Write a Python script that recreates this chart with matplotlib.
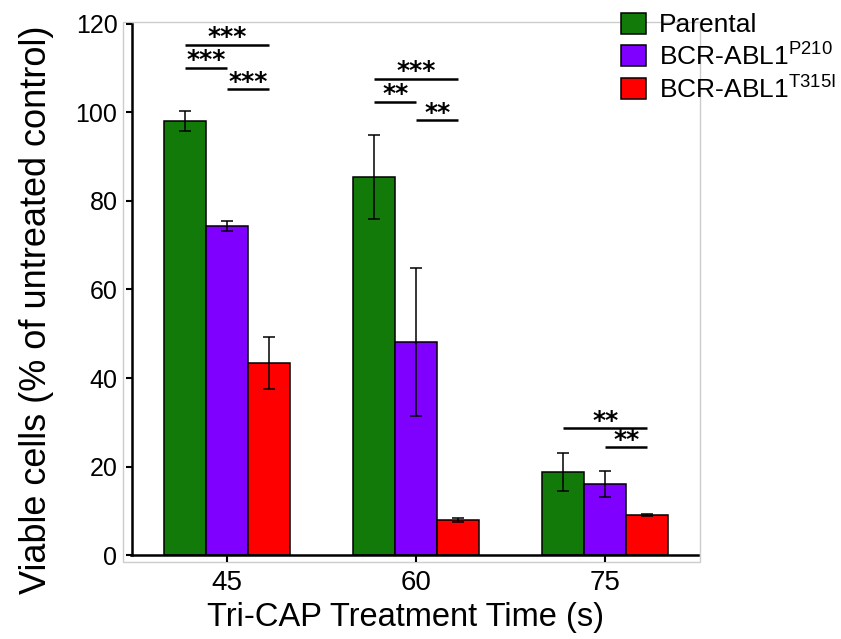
import numpy as np
import matplotlib
matplotlib.use("Agg")
import matplotlib.pyplot as plt

# data
times = ["45", "60", "75"]
lines = ["Parental", "BCR-ABL1$^{\\mathregular{P210}}$", "BCR-ABL1$^{\\mathregular{T315I}}$"]
colors = ["#127a08", "#8000ff", "#ff0000"]

parental = [98.1, 85.4, 18.8]
parental_err = [2.2, 9.5, 4.3]
p210 = [74.4, 48.1, 16.0]
p210_err = [1.1, 16.7, 3.0]
t315i = [43.4, 7.9, 9.0]
t315i_err = [5.9, 0.5, 0.2]

# significance brackets: (group, from bar, to bar, height, label)
sig = [
    (0, 0, 2, 115.3, "***"),
    (0, 0, 1, 110.1, "***"),
    (0, 1, 2, 105.3, "***"),
    (1, 0, 2, 107.6, "***"),
    (1, 0, 1, 102.4, "**"),
    (1, 1, 2, 98.3, "**"),
    (2, 0, 2, 28.7, "**"),
    (2, 1, 2, 24.4, "**"),
]

plt.rcParams["font.family"] = ["Liberation Sans", "DejaVu Sans"]

fig = plt.figure(figsize=(8.41, 6.39), dpi=100)
ax = fig.add_axes([123/841, 1-562/639, 577/841, 540/639])

x = np.arange(len(times))
w = 0.222
vals = [parental, p210, t315i]
errs = [parental_err, p210_err, t315i_err]
for i in range(3):
    ax.bar(x + (i-1)*w, vals[i], w, yerr=errs[i], color=colors[i], edgecolor="black",
           linewidth=1.1, label=lines[i], capsize=4.3,
           error_kw=dict(elinewidth=1.1, capthick=1.1, ecolor="black"), zorder=2)

for g, a, b, h, lab in sig:
    x0 = g + (a-1)*w
    x1 = g + (b-1)*w
    ax.plot([x0, x1], [h, h], color="black", lw=1.8, solid_capstyle="butt")
    ax.text((x0+x1)/2, h + 0.1, lab, ha="center", va="baseline", fontsize=18,
            family="DejaVu Sans", fontweight="bold")

ax.set_xlim(-0.55, 2.5)
ax.set_ylim(-1.58, 120.45)
ax.set_xticks(x)
ax.set_xticklabels(times)
ax.set_yticks([0, 20, 40, 60, 80, 100, 120])
ax.tick_params(axis="y", labelsize=18, length=4.3, width=1.5, pad=6.5, direction="out")
ax.tick_params(axis="x", labelsize=20, length=5, width=1.5, pad=6, direction="out")

ax.patch.set_edgecolor("#cccccc")
ax.patch.set_linewidth(1.0)
ax.spines["top"].set_visible(False)
ax.spines["right"].set_visible(False)
ax.spines["left"].set_position(("data", -0.5))
ax.spines["left"].set_bounds(0, 120)
ax.spines["left"].set_linewidth(1.8)
ax.spines["bottom"].set_position(("data", 0))
ax.spines["bottom"].set_bounds(-0.51, 2.49)
ax.spines["bottom"].set_linewidth(1.8)

ax.set_ylabel("Viable cells (% of untreated control)", fontsize=26)
ax.set_xlabel("Tri-CAP Treatment Time (s)", fontsize=23.5)
ax.yaxis.set_label_coords(-0.12, 0.467)
ax.xaxis.set_label_coords(0.49, -0.074)

fig.legend(loc="upper left", bbox_to_anchor=(610/841, 1-2/639), frameon=False,
           fontsize=19, handlelength=0.95, handleheight=0.85, handletextpad=0.5,
           labelspacing=0.18, borderaxespad=0)

fig.savefig("out.png", dpi=100)
